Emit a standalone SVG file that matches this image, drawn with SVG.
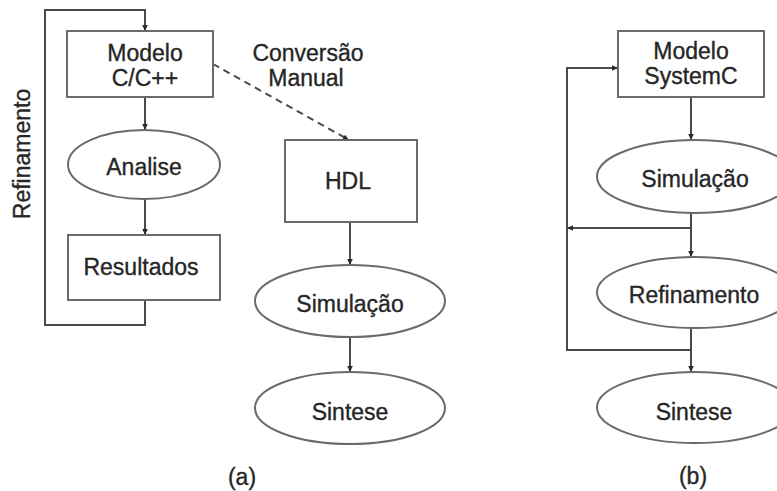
<svg xmlns="http://www.w3.org/2000/svg" width="777" height="491" viewBox="0 0 777 491">
  <style>
    .shape { fill: #ffffff; stroke: #6a6a6a; stroke-width: 2; }
    .link { fill: none; stroke: #4a4a4a; stroke-width: 2; }
    .dash { stroke-dasharray: 7 5; }
    .lbl { font-family: "Liberation Sans", Arial, sans-serif; font-size: 23px; fill: #262626; stroke: #262626; stroke-width: 0.35; text-anchor: middle; }
  </style>
  <defs>
    <marker id="head" viewBox="0 0 8 8" refX="7" refY="4" markerWidth="8" markerHeight="8" markerUnits="userSpaceOnUse" orient="auto">
      <path d="M1,1.2 L7,4 L1,6.8 Z" fill="#2a2a2a"/>
    </marker>
  </defs>
  <rect width="777" height="491" fill="#ffffff"/>

  <!-- connectors -->
  <g id="connectors">
    <!-- (a) refinement loop back to the C/C++ model -->
    <path class="link" d="M145,300 V325 H45 V10 H145 V31" marker-end="url(#head)"/>
    <path class="link" d="M145,97 V130" marker-end="url(#head)"/>
    <path class="link" d="M145,199 V235" marker-end="url(#head)"/>
    <path class="link dash" d="M213,64 L349,140" marker-end="url(#head)"/>
    <path class="link" d="M350,222 V265" marker-end="url(#head)"/>
    <path class="link" d="M350,337 V372" marker-end="url(#head)"/>
    <!-- (b) SystemC flow with feedback -->
    <path class="link" d="M691,97 V140" marker-end="url(#head)"/>
    <path class="link" d="M691,213 V257" marker-end="url(#head)"/>
    <path class="link" d="M691,228 H567" marker-end="url(#head)"/>
    <path class="link" d="M691,328 V372" marker-end="url(#head)"/>
    <path class="link" d="M691,350 H567 V68 H618" marker-end="url(#head)"/>
  </g>

  <!-- (a) nodes -->
  <g id="refinamento-a">
    <text class="lbl" transform="translate(30,154) rotate(-90)">Refinamento</text>
  </g>
  <g id="modelo-cpp">
    <rect class="shape" x="67" y="31" width="146" height="66"/>
    <text class="lbl" x="145" y="61">Modelo</text>
    <text class="lbl" x="145" y="86">C/C++</text>
  </g>
  <g id="analise">
    <ellipse class="shape" cx="144" cy="164.5" rx="76" ry="34.5"/>
    <text class="lbl" x="144" y="175">Analise</text>
  </g>
  <g id="resultados">
    <rect class="shape" x="68" y="235" width="152" height="65"/>
    <text class="lbl" x="141" y="275">Resultados</text>
  </g>
  <g id="conversao">
    <text class="lbl" x="308" y="61">Conversão</text>
    <text class="lbl" x="306" y="86">Manual</text>
  </g>
  <g id="hdl">
    <rect class="shape" x="285" y="140" width="132" height="82"/>
    <text class="lbl" x="348" y="189">HDL</text>
  </g>
  <g id="simulacao-a">
    <ellipse class="shape" cx="350" cy="301" rx="95" ry="36"/>
    <text class="lbl" x="350" y="312">Simulação</text>
  </g>
  <g id="sintese-a">
    <ellipse class="shape" cx="350" cy="408" rx="95" ry="36"/>
    <text class="lbl" x="350" y="420">Sintese</text>
  </g>
  <g id="caption-a">
    <text class="lbl" x="242" y="485">(a)</text>
  </g>

  <!-- (b) nodes -->
  <g id="modelo-systemc">
    <rect class="shape" x="618" y="31" width="146" height="66"/>
    <text class="lbl" x="691" y="59">Modelo</text>
    <text class="lbl" x="691" y="84">SystemC</text>
  </g>
  <g id="simulacao-b">
    <ellipse class="shape" cx="695" cy="176.5" rx="98" ry="36.5"/>
    <text class="lbl" x="695" y="187">Simulação</text>
  </g>
  <g id="refinamento-b">
    <ellipse class="shape" cx="695" cy="292.5" rx="98" ry="35.5"/>
    <text class="lbl" x="694" y="303">Refinamento</text>
  </g>
  <g id="sintese-b">
    <ellipse class="shape" cx="695" cy="407.5" rx="98" ry="35.5"/>
    <text class="lbl" x="694" y="420">Sintese</text>
  </g>
  <g id="caption-b">
    <text class="lbl" x="693" y="484">(b)</text>
  </g>
</svg>
